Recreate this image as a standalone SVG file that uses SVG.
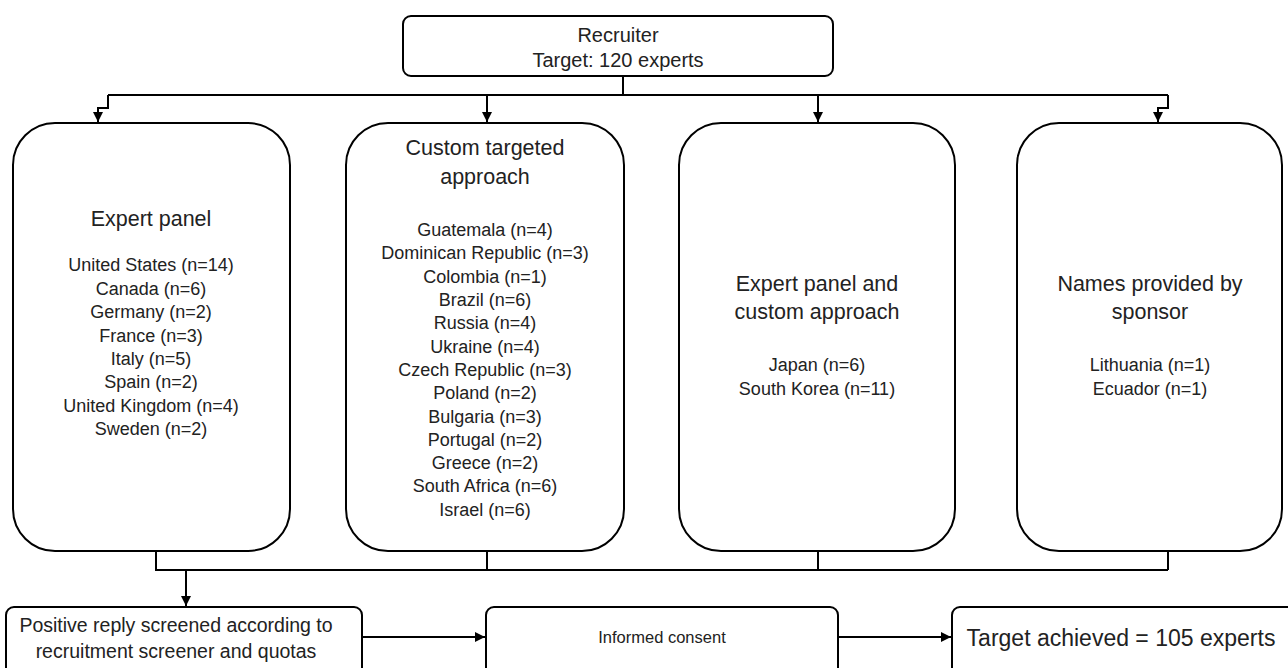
<svg xmlns="http://www.w3.org/2000/svg" width="1288" height="668" viewBox="0 0 1288 668">
<defs>
<style>
.box{fill:#fff;stroke:#000;stroke-width:2}
.ln{fill:none;stroke:#000;stroke-width:2}
text{font-family:"Liberation Sans",Arial,sans-serif;fill:#222;text-anchor:middle}
.t{font-size:20px}
.h{font-size:21.5px}
.s{font-size:18px}
.m{font-size:16.5px}
.b{font-size:19.5px}
.g{font-size:23px}
</style>
<marker id="ar" viewBox="0 0 10 10" refX="10" refY="5" markerWidth="5" markerHeight="5" orient="auto"><path d="M0,0 L10,5 L0,10 z" fill="#000"/></marker>
</defs>
<rect width="1288" height="668" fill="#fff"/>
<g id="connectors">
<path class="ln" d="M623,76 V95"/>
<path class="ln" d="M108,95 H1168"/>
<path class="ln" d="M108,95 V108 H98 V122" marker-end="url(#ar)"/>
<path class="ln" d="M1168,95 V108 H1158 V122" marker-end="url(#ar)"/>
<path class="ln" d="M487,95 V122" marker-end="url(#ar)"/>
<path class="ln" d="M818,95 V122" marker-end="url(#ar)"/>
<path class="ln" d="M156,551 V570 H1168 M487,551 V570 M818,551 V570 M1168,551 V570"/>
<path class="ln" d="M186,570 V606" marker-end="url(#ar)"/>
<path class="ln" d="M362,637 H485" marker-end="url(#ar)"/>
<path class="ln" d="M838,637 H951" marker-end="url(#ar)"/>
</g>
<g id="recruiter">
<rect class="box" x="403" y="16" width="430" height="60" rx="8"/>
<text class="t" x="618" y="42">Recruiter</text>
<text class="t" x="618" y="67">Target: 120 experts</text>
</g>
<g id="expert-panel">
<rect class="box" x="13" y="123" width="277" height="428" rx="42"/>
<text class="h" x="151" y="226">Expert panel</text>
<g class="s">
<text x="151" y="271">United States (n=14)</text>
<text x="151" y="295">Canada  (n=6)</text>
<text x="151" y="318">Germany  (n=2)</text>
<text x="151" y="342">France (n=3)</text>
<text x="151" y="365">Italy (n=5)</text>
<text x="151" y="388">Spain (n=2)</text>
<text x="151" y="412">United Kingdom (n=4)</text>
<text x="151" y="435">Sweden (n=2)</text>
</g>
</g>
<g id="custom-targeted">
<rect class="box" x="346" y="123" width="278" height="428" rx="42"/>
<text class="h" x="485" y="155">Custom targeted</text>
<text class="h" x="485" y="184">approach</text>
<g class="s">
<text x="485" y="236">Guatemala  (n=4)</text>
<text x="485" y="259">Dominican Republic  (n=3)</text>
<text x="485" y="283">Colombia  (n=1)</text>
<text x="485" y="306">Brazil (n=6)</text>
<text x="485" y="329">Russia  (n=4)</text>
<text x="485" y="353">Ukraine (n=4)</text>
<text x="485" y="376">Czech Republic (n=3)</text>
<text x="485" y="399">Poland (n=2)</text>
<text x="485" y="423">Bulgaria (n=3)</text>
<text x="485" y="446">Portugal (n=2)</text>
<text x="485" y="469">Greece (n=2)</text>
<text x="485" y="492">South Africa (n=6)</text>
<text x="485" y="516">Israel (n=6)</text>
</g>
</g>
<g id="expert-panel-custom">
<rect class="box" x="679" y="123" width="276" height="428" rx="42"/>
<text class="h" x="817" y="291">Expert panel and</text>
<text class="h" x="817" y="319">custom approach</text>
<text class="s" x="817" y="371">Japan (n=6)</text>
<text class="s" x="817" y="395">South Korea (n=11)</text>
</g>
<g id="sponsor">
<rect class="box" x="1017" y="123" width="265" height="428" rx="42"/>
<text class="h" x="1150" y="291">Names provided by</text>
<text class="h" x="1150" y="319">sponsor</text>
<text class="s" x="1150" y="371">Lithuania (n=1)</text>
<text class="s" x="1150" y="395">Ecuador (n=1)</text>
</g>
<g id="screened">
<rect class="box" x="6" y="607" width="356" height="70" rx="8"/>
<text class="b" x="176" y="632">Positive reply screened according to</text>
<text class="b" x="176" y="658">recruitment screener and quotas</text>
</g>
<g id="consent">
<rect class="box" x="486" y="607" width="352" height="70" rx="8"/>
<text class="m" x="662" y="643">Informed consent</text>
</g>
<g id="achieved">
<rect class="box" x="952" y="607" width="345" height="70" rx="8"/>
<text class="g" x="1121" y="646">Target achieved = 105 experts</text>
</g>
</svg>
